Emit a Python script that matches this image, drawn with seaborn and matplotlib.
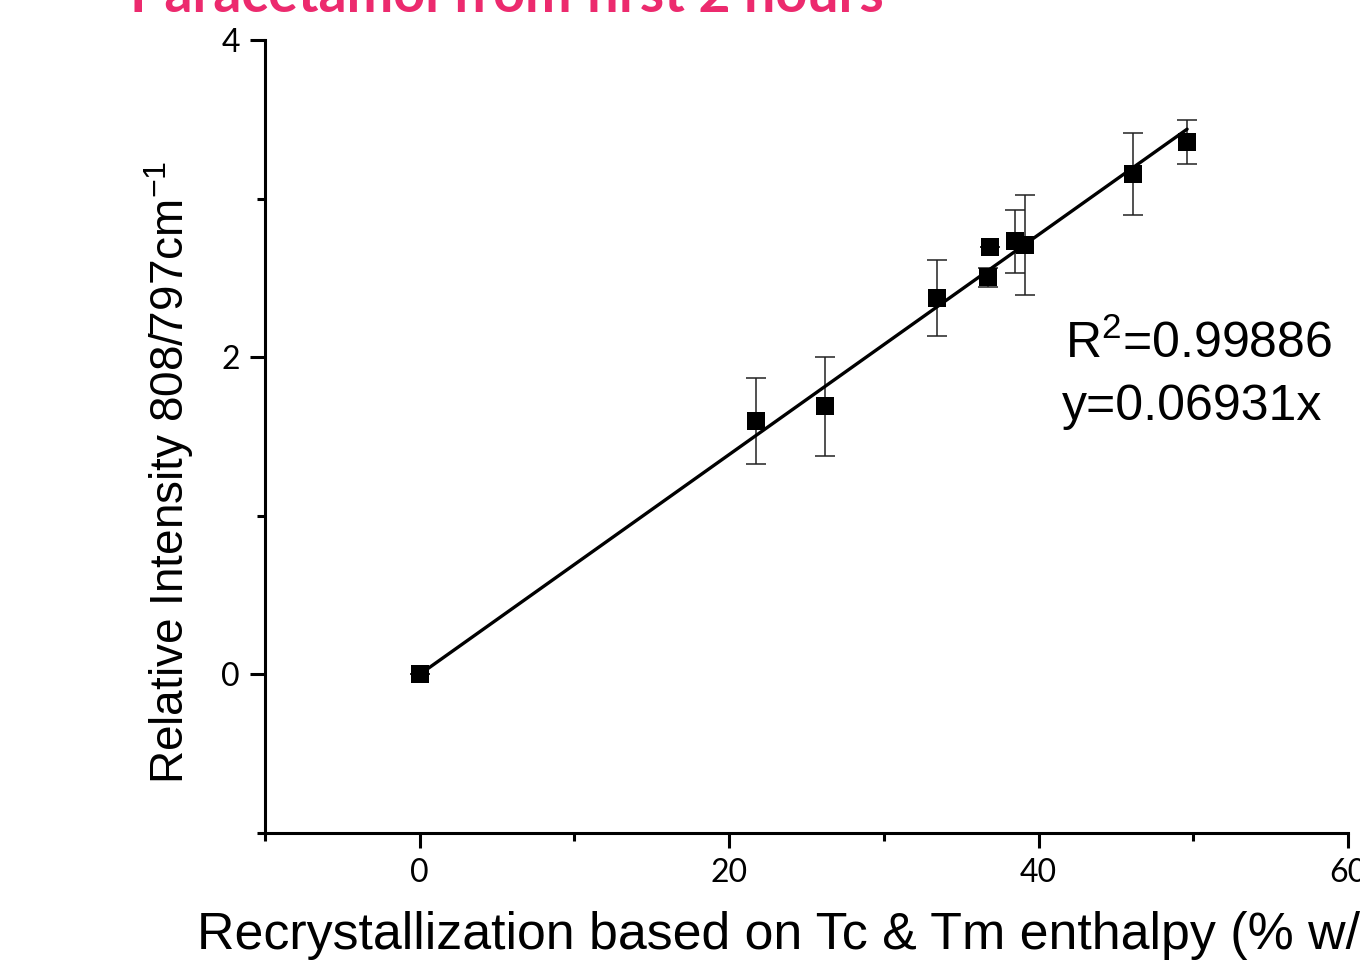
import matplotlib
matplotlib.use("Agg")
import matplotlib.pyplot as plt
import seaborn as sns
import numpy as np
import pandas as pd
from matplotlib.ticker import MultipleLocator

# ---- data ----
recryst = [0.0, 21.75, 26.2, 33.46, 36.76, 36.83, 38.45, 39.1, 46.08, 49.58]
intensity = [0.0, 1.596, 1.69, 2.372, 2.505, 2.694, 2.73, 2.71, 3.155, 3.356]
err = [0.0, 0.27, 0.31, 0.24, 0.06, 0.0, 0.20, 0.315, 0.26, 0.14]
slope = 0.06931
fit_x = [0.0, 49.6]
r2_text = "R$^2$=0.99886"
eq_text = "y=0.06931x"
title = "Paracetamol from first 2 hours"
xlabel = "Recrystallization based on Tc & Tm enthalpy (% w/w)"
ylabel = "Relative Intensity 808/797cm$^{-1}$"

sns.set_theme(style="ticks")
plt.rcParams['font.family'] = ['Liberation Sans', 'DejaVu Sans']
plt.rcParams['mathtext.fontset'] = 'custom'
plt.rcParams['mathtext.rm'] = 'Liberation Sans'
plt.rcParams['text.color'] = 'black'
plt.rcParams['axes.labelcolor'] = 'black'
plt.rcParams['xtick.color'] = 'black'
plt.rcParams['ytick.color'] = 'black'

W, H = 1360, 961
fig = plt.figure(figsize=(W/100, H/100), dpi=100)
ax = fig.add_axes([265/W, 1-833/H, (1348-265)/W, (833-40)/H])

df = pd.DataFrame({"x": recryst, "y": intensity, "e": err})
fit = pd.DataFrame({"x": fit_x, "y": [slope*v for v in fit_x]})

ax.errorbar(df["x"], df["y"], yerr=df["e"], fmt='none', ecolor='#222222',
            elinewidth=1.1, capsize=7, capthick=1.1, zorder=2)
sns.lineplot(data=fit, x="x", y="y", ax=ax, color='black', linewidth=2.4, zorder=3)
sns.scatterplot(data=df, x="x", y="y", ax=ax, marker='s', s=150, color='black',
                edgecolor='black', linewidth=0, zorder=4)

ax.set_xlim(-10, 60)
ax.set_ylim(-1, 4)
ax.xaxis.set_major_locator(MultipleLocator(20))
ax.xaxis.set_minor_locator(MultipleLocator(10))
ax.yaxis.set_major_locator(MultipleLocator(2))
ax.yaxis.set_minor_locator(MultipleLocator(1))

for s in ['top', 'right']:
    ax.spines[s].set_visible(False)
for s in ['left', 'bottom']:
    ax.spines[s].set_linewidth(2.2)
    ax.spines[s].set_color('black')

ax.tick_params(axis='both', which='major', direction='out', length=11, width=2.2,
               color='black', labelsize=23, pad=7)
ax.tick_params(axis='both', which='minor', direction='out', length=5.5, width=2.2,
               color='black')
for lab in ax.get_xticklabels() + ax.get_yticklabels():
    lab.set_family(['Lato', 'DejaVu Sans'])

ax.set_xlabel(xlabel, fontsize=37.4)
ax.set_ylabel(ylabel, fontsize=33)
ax.xaxis.set_label_coords((806-265)/1083, (833-911)/793)
ax.yaxis.set_label_coords((196-265)/1083, (833-472)/793)

fig.text(1065/W, 1-344/H, r2_text, fontsize=36, va='center', ha='left')
fig.text(1062/W, 1-407/H, eq_text, fontsize=36, va='center', ha='left')

fig.text(130/W, 1-12/H, title, fontsize=40, color='#EC2A6E',
         fontweight='bold', family=['Lato', 'DejaVu Sans'], va='baseline', ha='left')

fig.savefig("out.png", dpi=100)
